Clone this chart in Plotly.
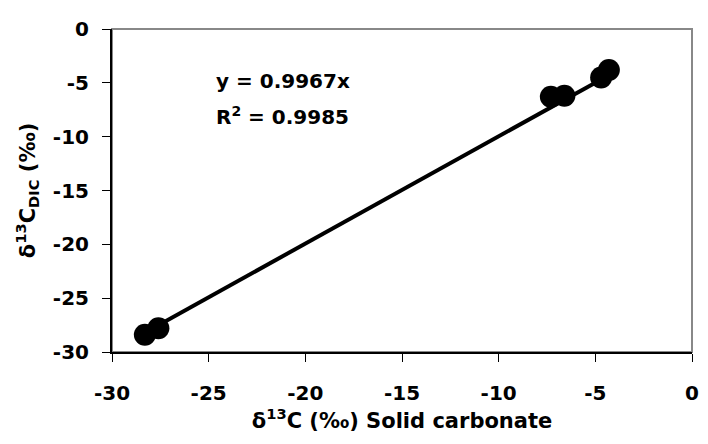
import plotly.graph_objects as go

# Data
solid_carbonate = [-28.3, -27.6, -7.3, -6.6, -4.7, -4.3]
dic = [-28.4, -27.8, -6.3, -6.2, -4.5, -3.8]
slope = 0.9967
r2_text = "0.9985"
fit_x = [min(solid_carbonate), max(solid_carbonate)]
fit_y = [slope * v for v in fit_x]

x_ticks = [-30, -25, -20, -15, -10, -5, 0]
y_ticks = [-30, -25, -20, -15, -10, -5, 0]

font_family = "DejaVu Sans, Liberation Sans, Arial, sans-serif"

fig = go.Figure()
fig.add_trace(go.Scatter(
    x=fit_x, y=fit_y, mode="lines",
    line=dict(color="black", width=4), showlegend=False, hoverinfo="skip"))
fig.add_trace(go.Scatter(
    x=solid_carbonate, y=dic, mode="markers",
    marker=dict(color="black", size=22), showlegend=False))

fig.add_annotation(
    x=0.1755, y=0.838, xref="paper", yref="paper", xanchor="left", yanchor="middle",
    showarrow=False, align="left",
    text=f"<b>y = {slope}x</b>",
    font=dict(family=font_family, size=20, color="black"))
fig.add_annotation(
    x=0.1755, y=0.73, xref="paper", yref="paper", xanchor="left", yanchor="middle",
    showarrow=False, align="left",
    text=f"<b>R<sup>2</sup> = {r2_text}</b>",
    font=dict(family=font_family, size=20, color="black"))

fig.update_layout(
    width=700, height=436,
    margin=dict(l=104, r=9, t=16, b=92),
    paper_bgcolor="white", plot_bgcolor="white",
    font=dict(family=font_family, color="black"),
    shapes=[dict(type="rect", xref="paper", yref="paper", x0=0, y0=0, x1=1, y1=1,
                 line=dict(color="#888888", width=2), layer="below")],
)
fig.update_xaxes(
    range=[-30, 0], tickvals=x_ticks, ticktext=[f"<b>{v}</b>" for v in x_ticks],
    showgrid=False, zeroline=False, showline=True, linecolor="black", linewidth=2,
    ticks="outside", ticklen=8, tickcolor="black", tickwidth=1,
    ticklabelstandoff=14,
    tickfont=dict(size=20, family=font_family),
    title=dict(text="<b>δ<sup>13</sup>C (‰) Solid carbonate</b>",
               font=dict(size=21, family=font_family), standoff=8))
fig.update_yaxes(
    range=[-30, 0], tickvals=y_ticks, ticktext=[f"<b>{v}</b>" for v in y_ticks],
    showgrid=False, zeroline=False, showline=True, linecolor="black", linewidth=2,
    ticks="outside", ticklen=8, tickcolor="black", tickwidth=1,
    ticklabelstandoff=9,
    tickfont=dict(size=20, family=font_family),
    title=dict(text="<b>δ<sup>13</sup>C<sub>DIC</sub> (‰)</b>",
               font=dict(size=21, family=font_family), standoff=12))

fig.write_html("out.html")
